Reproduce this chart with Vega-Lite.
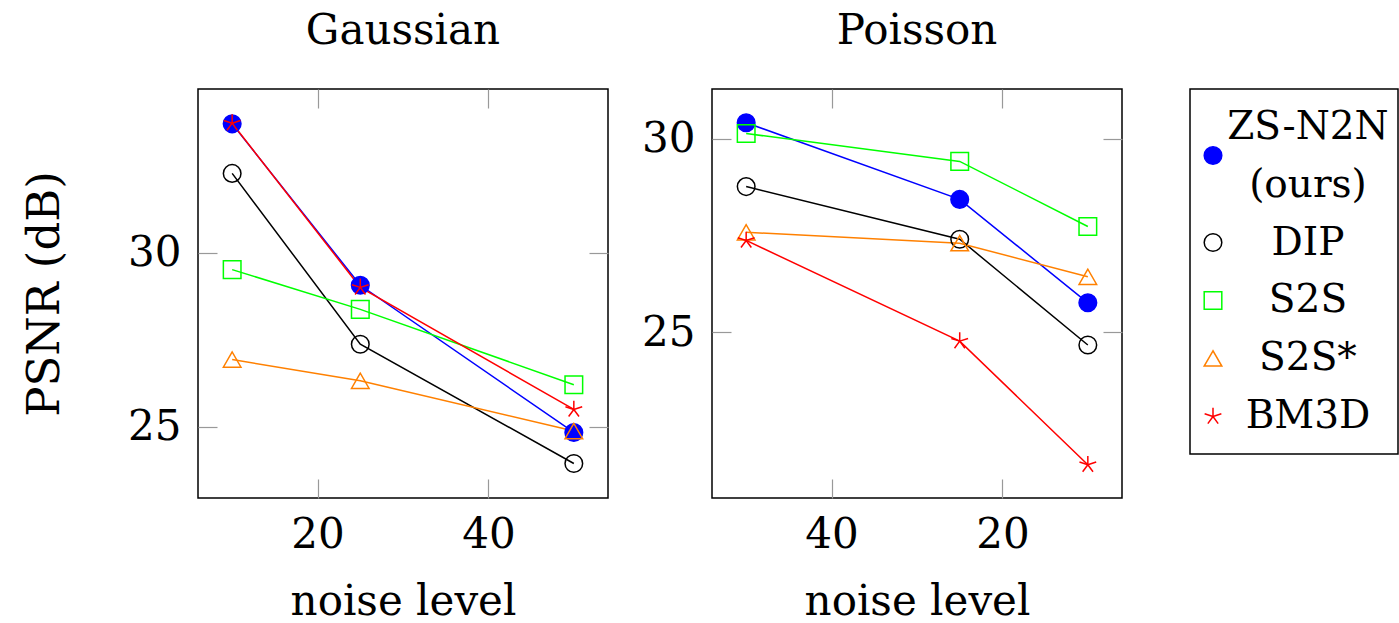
{
  "$schema": "https://vega.github.io/schema/vega-lite/v6.json",
  "datasets": {
    "results": [
      {"panel": "Gaussian", "method": "ZS-N2N (ours)", "noise": 10, "psnr": 33.69},
      {"panel": "Gaussian", "method": "ZS-N2N (ours)", "noise": 25, "psnr": 29.06},
      {"panel": "Gaussian", "method": "ZS-N2N (ours)", "noise": 50, "psnr": 24.84},
      {"panel": "Gaussian", "method": "DIP", "noise": 10, "psnr": 32.27},
      {"panel": "Gaussian", "method": "DIP", "noise": 25, "psnr": 27.37},
      {"panel": "Gaussian", "method": "DIP", "noise": 50, "psnr": 23.95},
      {"panel": "Gaussian", "method": "S2S", "noise": 10, "psnr": 29.51},
      {"panel": "Gaussian", "method": "S2S", "noise": 25, "psnr": 28.37},
      {"panel": "Gaussian", "method": "S2S", "noise": 50, "psnr": 26.21},
      {"panel": "Gaussian", "method": "S2S*", "noise": 10, "psnr": 26.93},
      {"panel": "Gaussian", "method": "S2S*", "noise": 25, "psnr": 26.32},
      {"panel": "Gaussian", "method": "S2S*", "noise": 50, "psnr": 24.88},
      {"panel": "Gaussian", "method": "BM3D", "noise": 10, "psnr": 33.71},
      {"panel": "Gaussian", "method": "BM3D", "noise": 25, "psnr": 29.0},
      {"panel": "Gaussian", "method": "BM3D", "noise": 50, "psnr": 25.5},
      {"panel": "Poisson", "method": "ZS-N2N (ours)", "noise": 50, "psnr": 30.41},
      {"panel": "Poisson", "method": "ZS-N2N (ours)", "noise": 25, "psnr": 28.43},
      {"panel": "Poisson", "method": "ZS-N2N (ours)", "noise": 10, "psnr": 25.76},
      {"panel": "Poisson", "method": "DIP", "noise": 50, "psnr": 28.76},
      {"panel": "Poisson", "method": "DIP", "noise": 25, "psnr": 27.4},
      {"panel": "Poisson", "method": "DIP", "noise": 10, "psnr": 24.67},
      {"panel": "Poisson", "method": "S2S", "noise": 50, "psnr": 30.13},
      {"panel": "Poisson", "method": "S2S", "noise": 25, "psnr": 29.41},
      {"panel": "Poisson", "method": "S2S", "noise": 10, "psnr": 27.73},
      {"panel": "Poisson", "method": "S2S*", "noise": 50, "psnr": 27.58},
      {"panel": "Poisson", "method": "S2S*", "noise": 25, "psnr": 27.3},
      {"panel": "Poisson", "method": "S2S*", "noise": 10, "psnr": 26.43},
      {"panel": "Poisson", "method": "BM3D", "noise": 50, "psnr": 27.37},
      {"panel": "Poisson", "method": "BM3D", "noise": 25, "psnr": 24.77},
      {"panel": "Poisson", "method": "BM3D", "noise": 10, "psnr": 21.58}
    ],
    "legend": [
      {"line": "ZS-N2N", "method": "ZS-N2N (ours)"},
      {"line": "(ours)", "method": "ZS-N2N (ours)"},
      {"line": "DIP", "method": "DIP"},
      {"line": "S2S", "method": "S2S"},
      {"line": "S2S*", "method": "S2S*"},
      {"line": "BM3D", "method": "BM3D"}
    ]
  },
  "padding": {"left": 21, "top": 9, "right": 0, "bottom": 0},
  "spacing": 65,
  "hconcat": [
    {
      "data": {"name": "results"},
      "spacing": 30,
      "hconcat": [
        {
          "width": 410, "height": 409,
          "title": "Gaussian",
          "transform": [{"filter": "datum.panel === 'Gaussian'"}],
          "layer": [
            {
              "mark": {"type": "line", "strokeWidth": 1.5},
              "encoding": {
                "x": {"field": "noise", "type": "quantitative", "scale": {"domain": [6, 54], "nice": false, "zero": false},
                      "axis": {"orient": "bottom", "values": [20, 40], "title": "noise level"}},
                "y": {"field": "psnr", "type": "quantitative", "scale": {"domain": [22.96, 34.69], "nice": false, "zero": false},
                      "axis": {"orient": "left", "values": [25, 30], "title": "PSNR (dB)", "titleFontSize": 45, "titlePadding": 60}},
                "color": {"field": "method", "type": "nominal", "legend": null,
                          "scale": {"domain": ["ZS-N2N (ours)", "DIP", "S2S", "S2S*", "BM3D"], "range": ["#0000ff", "#000000", "#00ff00", "#ff8000", "#ff0000"]}}
              }
            },
            {
              "mark": {"type": "point", "filled": false, "strokeWidth": 1.5, "opacity": 1, "size": 310},
              "encoding": {
                "x": {"field": "noise", "type": "quantitative", "scale": {"domain": [6, 54], "nice": false, "zero": false},
                      "axis": {"orient": "top", "values": [20, 40], "labels": false, "title": null}},
                "y": {"field": "psnr", "type": "quantitative", "scale": {"domain": [22.96, 34.69], "nice": false, "zero": false},
                      "axis": {"orient": "right", "values": [25, 30], "labels": false, "title": null}},
                "color": {"field": "method", "type": "nominal", "legend": null},
                "shape": {"field": "method", "type": "nominal", "legend": null,
                          "scale": {"domain": ["ZS-N2N (ours)", "DIP", "S2S", "S2S*", "BM3D"], "range": ["circle", "circle", "square", "triangle-up", "M0,0L0,-1M0,0L0.951,-0.309M0,0L0.588,0.809M0,0L-0.588,0.809M0,0L-0.951,-0.309"]}},
                "fill": {"field": "method", "type": "nominal", "legend": null,
                         "scale": {"domain": ["ZS-N2N (ours)", "DIP", "S2S", "S2S*", "BM3D"], "range": ["#0000ff", "transparent", "transparent", "transparent", "transparent"]}}
              }
            }
          ],
          "resolve": {"axis": {"x": "independent", "y": "independent"}}
        },
        {
          "width": 410, "height": 409,
          "title": "Poisson",
          "transform": [{"filter": "datum.panel === 'Poisson'"}],
          "layer": [
            {
              "mark": {"type": "line", "strokeWidth": 1.5},
              "encoding": {
                "x": {"field": "noise", "type": "quantitative", "scale": {"domain": [6, 54], "nice": false, "zero": false, "reverse": true},
                      "axis": {"orient": "bottom", "values": [20, 40], "title": "noise level"}},
                "y": {"field": "psnr", "type": "quantitative", "scale": {"domain": [20.72, 31.28], "nice": false, "zero": false},
                      "axis": {"orient": "left", "values": [25, 30], "title": null}},
                "color": {"field": "method", "type": "nominal", "legend": null}
              }
            },
            {
              "mark": {"type": "point", "filled": false, "strokeWidth": 1.5, "opacity": 1, "size": 310},
              "encoding": {
                "x": {"field": "noise", "type": "quantitative", "scale": {"domain": [6, 54], "nice": false, "zero": false, "reverse": true},
                      "axis": {"orient": "top", "values": [20, 40], "labels": false, "title": null}},
                "y": {"field": "psnr", "type": "quantitative", "scale": {"domain": [20.72, 31.28], "nice": false, "zero": false},
                      "axis": {"orient": "right", "values": [25, 30], "labels": false, "title": null}},
                "color": {"field": "method", "type": "nominal", "legend": null},
                "shape": {"field": "method", "type": "nominal", "legend": null},
                "fill": {"field": "method", "type": "nominal", "legend": null}
              }
            }
          ],
          "resolve": {"axis": {"x": "independent", "y": "independent"}}
        }
      ],
      "resolve": {"scale": {"x": "independent", "y": "independent", "color": "shared", "shape": "shared", "fill": "shared"}}
    },
    {
      "data": {"name": "legend"},
      "width": 208, "height": 365,
      "title": " ",
      "layer": [
        {
          "mark": {"type": "text", "align": "center", "baseline": "middle", "fontSize": 39, "font": "DejaVu Serif", "color": "black"},
          "encoding": {
            "x": {"datum": "label", "type": "nominal", "scale": {"type": "point", "domain": ["symbol", "label"], "padding": 0.595, "align": 0.2035}, "axis": null},
            "y": {"field": "line", "type": "ordinal", "scale": {"type": "point", "domain": ["ZS-N2N", "(ours)", "DIP", "S2S", "S2S*", "BM3D"], "padding": 0.647}, "axis": null},
            "text": {"field": "line"}
          }
        },
        {
          "transform": [{"filter": "datum.line === 'ZS-N2N'"}],
          "mark": {"type": "point", "filled": false, "strokeWidth": 1.5, "opacity": 1, "size": 310, "yOffset": 29},
          "encoding": {
            "x": {"datum": "symbol", "type": "nominal", "axis": null},
            "y": {"field": "line", "type": "ordinal", "axis": null},
            "color": {"field": "method", "type": "nominal", "legend": null},
            "shape": {"field": "method", "type": "nominal", "legend": null},
            "fill": {"field": "method", "type": "nominal", "legend": null}
          }
        },
        {
          "transform": [{"filter": "datum.method !== 'ZS-N2N (ours)'"}],
          "mark": {"type": "point", "filled": false, "strokeWidth": 1.5, "opacity": 1, "size": 310},
          "encoding": {
            "x": {"datum": "symbol", "type": "nominal", "axis": null},
            "y": {"field": "line", "type": "ordinal", "axis": null},
            "color": {"field": "method", "type": "nominal", "legend": null},
            "shape": {"field": "method", "type": "nominal", "legend": null},
            "fill": {"field": "method", "type": "nominal", "legend": null}
          }
        }
      ]
    }
  ],
  "resolve": {"scale": {"x": "independent", "y": "independent", "color": "shared", "shape": "shared", "fill": "shared"}},
  "config": {
    "font": "DejaVu Serif",
    "view": {"stroke": "black", "strokeWidth": 1.5},
    "title": {"font": "DejaVu Serif", "fontSize": 42, "fontWeight": "normal", "offset": 35, "color": "black"},
    "axis": {
      "domain": false, "grid": false,
      "labelFont": "DejaVu Serif", "labelFontSize": 42, "labelColor": "black",
      "titleFont": "DejaVu Serif", "titleFontSize": 42, "titleFontWeight": "normal", "titleColor": "black",
      "tickColor": "#999999", "tickWidth": 1.2, "tickSize": -19
    },
    "axisX": {"labelPadding": 35, "titlePadding": 26},
    "axisY": {"labelPadding": 36, "titlePadding": 63}
  }
}
